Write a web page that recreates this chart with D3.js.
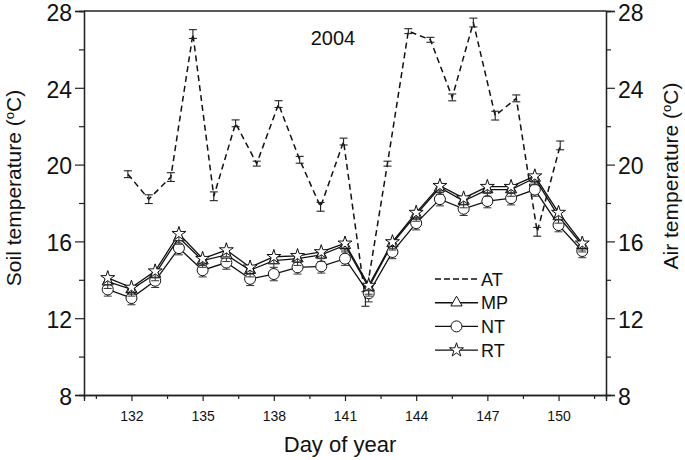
<!DOCTYPE html>
<html>
<head>
<meta charset="utf-8">
<script src="https://cdn.jsdelivr.net/npm/d3@7"></script>
<style>
  body { margin: 0; background: #fff; }
  svg { display: block; font-family: "Liberation Sans", Arial, sans-serif; }
</style>
</head>
<body>
<svg id="chart" width="685" height="460"></svg>
<script>
// ---- data ----
const days = [131,132,133,134,135,136,137,138,139,140,141,142,143,144,145,146,147,148,149,150,151];
const mpValues = [13.9,13.5,14.3,16.2,15.0,15.3,14.5,15.0,15.1,15.3,15.8,13.6,15.9,17.4,18.8,18.1,18.7,18.7,19.3,17.3,15.8];
const ntValues = [13.5,13.05,13.95,15.65,14.5,14.9,14.05,14.3,14.65,14.7,15.1,13.3,15.45,16.95,18.2,17.7,18.1,18.25,18.7,16.85,15.5];
const rtValues = [14.1,13.6,14.45,16.4,15.1,15.55,14.65,15.2,15.25,15.45,15.9,13.7,15.97,17.5,18.9,18.25,18.85,18.85,19.4,17.5,15.9];
const soilErr = [0.15,0.15,0.15,0.15,0.15,0.15,0.15,0.15,0.15,0.15,0.15,0.25,0.15,0.15,0.15,0.15,0.15,0.15,0.15,0.15,0.15];
// air temperature is drawn at slightly compressed day positions in the reference
const atDays = [131.85,132.73,133.66,134.59,135.47,136.39,137.28,138.2,139.09,139.97,140.94,141.86,142.79,143.67,144.6,145.52,146.41,147.33,148.22,149.1,150.07];
const atValues = [19.5,18.2,19.35,26.8,18.35,22.15,20.05,23.15,20.25,17.8,21.2,13.0,20.05,26.95,26.5,23.5,27.4,22.55,23.45,16.5,21.0];
const atErr = [0.1,0.15,0.15,0.15,0.15,0.1,0.05,0.1,0.1,0.15,0.1,0.3,0.05,0.05,0.05,0.1,0.15,0.15,0.1,0.15,0.15];
const xTicks = [132,135,138,141,144,147,150];
const xMinorTicks = [130.5,133.5,136.5,139.5,142.5,145.5,148.5,151.5];
const yTicks = [8,12,16,20,24,28];
const yMinorTicks = [10,14,18,22,26];
const legendLabels = ["AT","MP","NT","RT"];
const yearLabel = "2004";

// ---- layout ----
const svg = d3.select("#chart");
const L = 84, R = 606, T = 11, B = 395;
const x = d3.scaleLinear().domain([130, 152]).range([L, R]);
const y = d3.scaleLinear().domain([8, 28]).range([B, T]);
const yR = d3.scaleLinear().domain([8, 28]).range([B, T]);

const axisColor = "#222";

// frame top line
svg.append("line").attr("x1", L).attr("x2", R).attr("y1", T).attr("y2", T)
  .attr("stroke", axisColor).attr("stroke-width", 1.3);

// bottom axis
const gx = svg.append("g").attr("transform", `translate(0,${B})`);
gx.call(d3.axisBottom(x).tickValues(xTicks).tickSize(6).tickPadding(10).tickFormat(d3.format("d")));
gx.append("g").call(d3.axisBottom(x).tickValues(xMinorTicks).tickSize(4).tickFormat(""));
gx.selectAll("text").attr("font-size", 14).attr("fill", "#111");

// left axis
const gy = svg.append("g").attr("transform", `translate(${L},0)`);
gy.call(d3.axisLeft(y).tickValues(yTicks).tickSize(9).tickPadding(3));
gy.append("g").call(d3.axisLeft(y).tickValues(yMinorTicks).tickSize(5).tickFormat(""));
gy.selectAll("text").attr("font-size", 23).attr("fill", "#111").attr("dy", "0.4em");

// right axis
const gr = svg.append("g").attr("transform", `translate(${R},0)`);
gr.call(d3.axisRight(yR).tickValues(yTicks).tickSize(9).tickPadding(3));
gr.append("g").call(d3.axisRight(yR).tickValues(yMinorTicks).tickSize(5).tickFormat(""));
gr.selectAll("text").attr("font-size", 23).attr("fill", "#111").attr("dy", "0.4em");

svg.selectAll(".domain").attr("stroke", axisColor).attr("stroke-width", 1.3);
svg.selectAll(".tick line").attr("stroke", axisColor).attr("stroke-width", 1.2);

// axis titles
svg.append("text").attr("transform", `translate(21,188) rotate(-90)`)
  .attr("text-anchor", "middle").attr("font-size", 21).attr("fill", "#111")
  .html('Soil temperature (<tspan baseline-shift="super" font-size="13">o</tspan>C)');
svg.append("text").attr("transform", `translate(678,176) rotate(-90)`)
  .attr("text-anchor", "middle").attr("font-size", 21).attr("fill", "#111")
  .html('Air temperature (<tspan baseline-shift="super" font-size="13">o</tspan>C)');
svg.append("text").attr("x", 340).attr("y", 452).attr("text-anchor", "middle")
  .attr("font-size", 22).attr("fill", "#111").text("Day of year");
svg.append("text").attr("x", 333).attr("y", 45).attr("text-anchor", "middle")
  .attr("font-size", 20).attr("fill", "#111").text(yearLabel);

// ---- AT dashed line ----
const atData = atDays.map((d, i) => ({ d, v: atValues[i], e: atErr[i] }));
const line = d3.line().x(p => x(p.d)).y(p => y(p.v));
svg.append("path").datum(atData).attr("d", line).attr("fill", "none")
  .attr("stroke", "#111").attr("stroke-width", 1.5).attr("stroke-dasharray", "6,4");
const atEb = svg.append("g").attr("stroke", "#222").attr("stroke-width", 1.1);
atData.forEach(p => {
  const cx = x(p.d);
  atEb.append("line").attr("x1", cx).attr("x2", cx).attr("y1", y(p.v - p.e) + 1.5).attr("y2", y(p.v + p.e) - 1.5);
  atEb.append("line").attr("x1", cx - 4).attr("x2", cx + 4).attr("y1", y(p.v + p.e) - 1.5).attr("y2", y(p.v + p.e) - 1.5);
  atEb.append("line").attr("x1", cx - 4).attr("x2", cx + 4).attr("y1", y(p.v - p.e) + 1.5).attr("y2", y(p.v - p.e) + 1.5);
});

// ---- soil series ----
const triangle = d3.symbol().type(d3.symbolTriangle).size(55);
const circle = d3.symbol().type(d3.symbolCircle).size(95);
const star = d3.symbol().type(d3.symbolStar).size(60);
const series = [
  { name: "NT", vals: ntValues, sym: circle },
  { name: "MP", vals: mpValues, sym: triangle },
  { name: "RT", vals: rtValues, sym: star }
];
series.forEach(s => {
  const data = days.map((d, i) => ({ d, v: s.vals[i], e: soilErr[i] }));
  svg.append("path").datum(data).attr("d", line).attr("fill", "none")
    .attr("stroke", "#111").attr("stroke-width", 1.3);
});
series.forEach(s => {
  const data = days.map((d, i) => ({ d, v: s.vals[i], e: soilErr[i] }));
  const g = svg.append("g");
  data.forEach(p => {
    const cx = x(p.d);
    g.append("line").attr("x1", cx).attr("x2", cx).attr("y1", y(p.v - p.e - 0.2)).attr("y2", y(p.v + p.e + 0.2))
      .attr("stroke", "#333").attr("stroke-width", 1);
    g.append("line").attr("x1", cx - 4).attr("x2", cx + 4).attr("y1", y(p.v - p.e - 0.2)).attr("y2", y(p.v - p.e - 0.2))
      .attr("stroke", "#333").attr("stroke-width", 1);
  });
  g.selectAll("path").data(data).join("path")
    .attr("d", s.sym)
    .attr("transform", p => `translate(${x(p.d)},${y(p.v)})`)
    .attr("fill", "#fff").attr("stroke", "#111").attr("stroke-width", 1);
});

// ---- legend ----
const lg = svg.append("g");
const legendSyms = [null, triangle, circle, star];
legendLabels.forEach((lab, i) => {
  const ly = 279 + i * 23.7;
  lg.append("line").attr("x1", 435).attr("x2", 478).attr("y1", ly).attr("y2", ly)
    .attr("stroke", "#111").attr("stroke-width", 1.4)
    .attr("stroke-dasharray", i === 0 ? "6,3" : null);
  if (legendSyms[i]) {
    lg.append("path").attr("d", legendSyms[i]).attr("transform", `translate(456.5,${ly})`)
      .attr("fill", "#fff").attr("stroke", "#111").attr("stroke-width", 1);
  }
  lg.append("text").attr("x", 481).attr("y", ly + 6.5).attr("font-size", 18).attr("fill", "#111").text(lab);
});
</script>
</body>
</html>
